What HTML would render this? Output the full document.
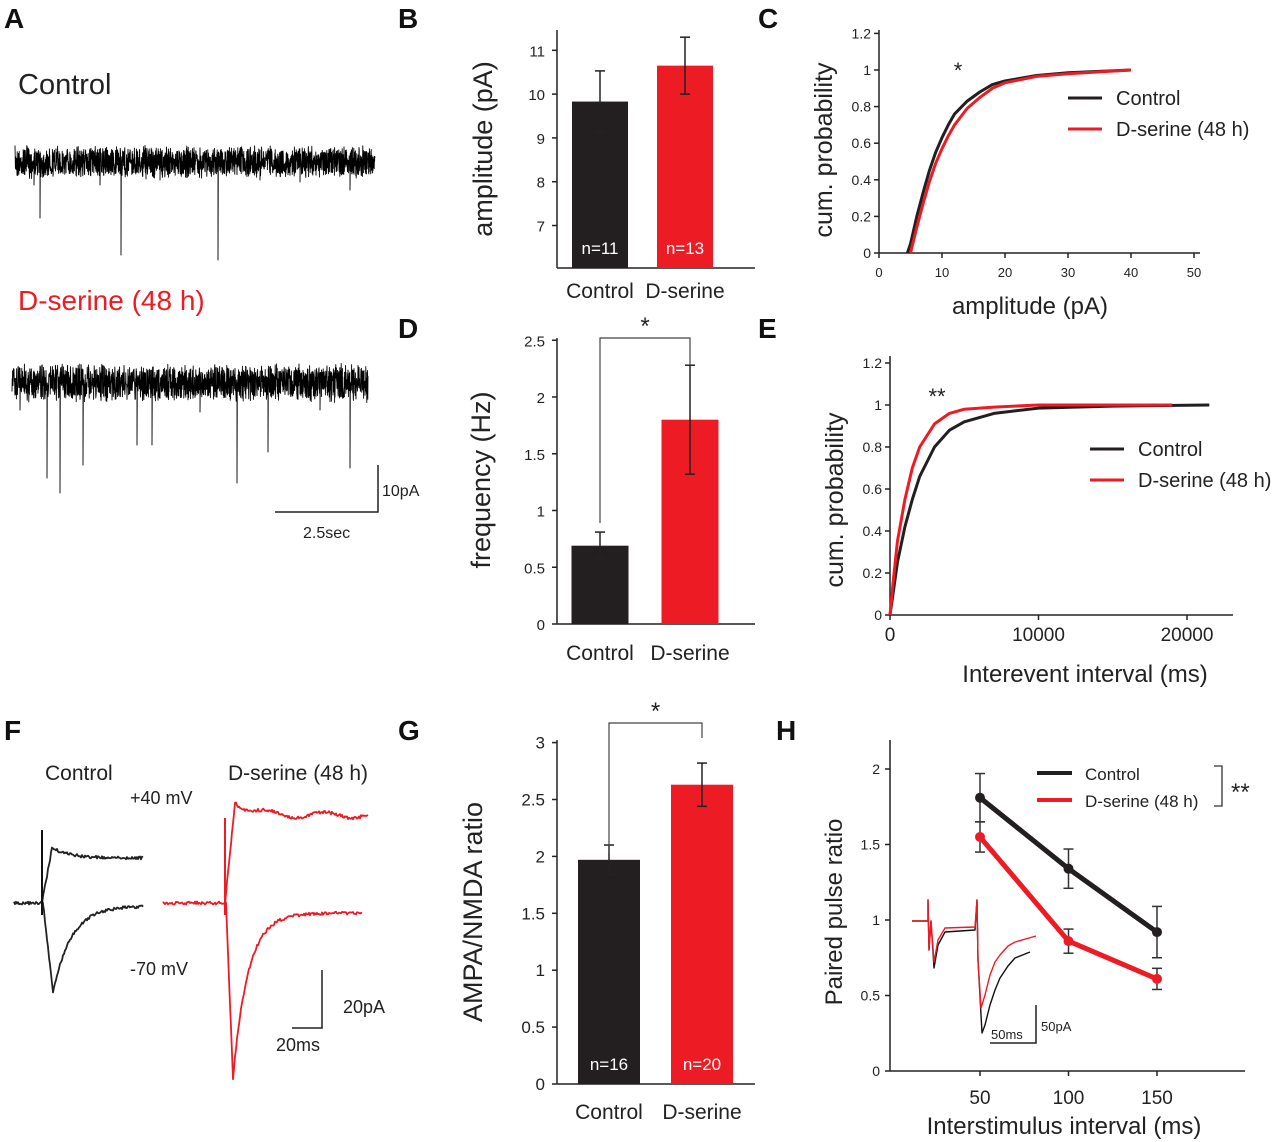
<!DOCTYPE html>
<html><head><meta charset="utf-8">
<style>
html,body{margin:0;padding:0;background:#fff;}
svg{display:block;font-family:"Liberation Sans",Arial,sans-serif;}
</style></head>
<body>
<svg id="fig" width="1280" height="1142" viewBox="0 0 1280 1142" xmlns="http://www.w3.org/2000/svg">
<g id="root"></g>
</svg>
<script>
// ---------- data ----------
const barCats = ["Control","D-serine"];
const ampMeans = [9.83, 10.65];
const ampErr = [0.7, 0.65];
const ampN = ["n=11","n=13"];
const freqMeans = [0.69, 1.80];
const freqErr = [0.12, 0.48];
const ratioMeans = [1.97, 2.63];
const ratioErr = [0.13, 0.19];
const ratioN = ["n=16","n=20"];
const ampCdfX_ctrl = [4.5,5,6,7,8,9,10,11,12,14,16,18,20,25,30,40];
const ampCdfY_ctrl = [0,0.05,0.2,0.33,0.45,0.55,0.63,0.7,0.76,0.83,0.88,0.92,0.94,0.97,0.985,1];
const ampCdfX_ds = [5,6,7,8,9,10,11,12,14,16,18,20,25,30,40];
const ampCdfY_ds = [0,0.14,0.27,0.39,0.49,0.57,0.64,0.7,0.79,0.85,0.9,0.93,0.965,0.98,1];
const iiCdfX_ctrl = [0,200,500,1000,1500,2000,3000,4000,5000,7000,10000,15000,21500];
const iiCdfY_ctrl = [0,0.1,0.25,0.42,0.55,0.66,0.8,0.88,0.92,0.96,0.985,0.995,1];
const iiCdfX_ds = [0,200,500,1000,1500,2000,3000,4000,5000,7000,10000,19000];
const iiCdfY_ds = [0,0.15,0.35,0.55,0.7,0.8,0.91,0.96,0.98,0.99,1,1];
const ppX = [50,100,150];
const ppCtrl = [1.81,1.34,0.92];
const ppCtrlErr = [0.16,0.13,0.17];
const ppDs = [1.55,0.86,0.61];
const ppDsErr = [0.1,0.08,0.07];

const NS="http://www.w3.org/2000/svg";
const root=document.getElementById('root');
function mk(tag,attrs,name,parent){
  const el=document.createElementNS(NS,tag);
  for(const k in attrs) el.setAttribute(k,attrs[k]);
  
  
  (parent||root).appendChild(el);return el;
}
function txt(x,y,s,size,name,opt){
  opt=opt||{};
  const t=mk('text',{x:x,y:y,'font-size':size,fill:opt.fill||'#222','text-anchor':opt.anchor||'start','font-weight':opt.bold?'bold':'normal'},name);
  if(opt.rot) t.setAttribute('transform',`rotate(-90 ${x} ${y})`);
  t.textContent=s;return t;
}
function line(x1,y1,x2,y2,name,stroke,w){return mk('line',{x1,y1,x2,y2,stroke:stroke||'#222','stroke-width':w||1.5},name);}
function poly(pts,name,stroke,w){return mk('polyline',{points:pts.map(p=>p[0].toFixed(1)+','+p[1].toFixed(1)).join(' '),fill:'none',stroke,'stroke-width':w||1.5,'stroke-linejoin':'round'},name);}

// panel letters
[["A",4,28],["B",398,28],["C",758,28],["D",398,338],["E",758,338],["F",4,740],["G",398,740],["H",776,740]].forEach(l=>txt(l[1],l[2],l[0],28,'panel-label-'+l[0].toLowerCase(),{bold:true,fill:'#111'}));

const colors=['#231f20','#ed1c24'];

// ---------- bar panel helper ----------
function barPanel(cfg){
  const y=v=>cfg.y0-(v-cfg.min)*cfg.k;
  line(cfg.ax,cfg.top,cfg.ax,cfg.y0,cfg.id+'-y-axis');
  line(cfg.ax,cfg.y0,cfg.ax2,cfg.y0,cfg.id+'-x-axis');
  cfg.ticks.forEach(t=>{line(cfg.ax-5,y(t),cfg.ax,y(t),cfg.id+'-y-tick');txt(cfg.ax-12,y(t)+6,String(t),cfg.tfs||16,cfg.id+'-y-tick-label',{anchor:'end'});});
  cfg.means.forEach((m,i)=>{
    const cx=cfg.cx[i];
    mk('rect',{x:cx-cfg.bw/2,y:y(m),width:cfg.bw,height:cfg.y0-y(m),fill:colors[i]},cfg.id+'-bar-'+i);
    const e=cfg.err[i];
    line(cx,y(m+e),cx,y(m-e),cfg.id+'-error-bar');
    line(cx-5,y(m+e),cx+5,y(m+e),cfg.id+'-error-cap');
    line(cx-5,y(m-e),cx+5,y(m-e),cfg.id+'-error-cap');
    txt(cx,cfg.labY,barCats[i],21,cfg.id+'-x-label',{anchor:'middle'});
    if(cfg.n) txt(cx,cfg.y0-14,cfg.n[i],17,cfg.id+'-n-label',{anchor:'middle',fill:'#fff'});
  });
  txt(cfg.titleX,cfg.titleY,cfg.title,27,cfg.id+'-y-axis-title',{anchor:'middle',rot:true});
  if(cfg.sig){
    const [a,b]=cfg.sig;
    mk('polyline',{points:`${cfg.cx[0]},${a} ${cfg.cx[0]},${cfg.bt} ${cfg.cx[1]},${cfg.bt} ${cfg.cx[1]},${b}`,fill:'none',stroke:'#444','stroke-width':1.2},cfg.id+'-significance-bracket');
    txt((cfg.cx[0]+cfg.cx[1])/2,cfg.bt-4,'*',24,cfg.id+'-significance-star',{anchor:'middle'});
  }
}
barPanel({id:'b',ax:557,ax2:755,top:30,y0:268,min:6.03,k:43.8,ticks:[7,8,9,10,11],means:ampMeans,err:ampErr,cx:[600,685],bw:56,labY:298,n:ampN,title:'amplitude (pA)',titleX:492,titleY:149,tfs:15});
barPanel({id:'d',ax:557,ax2:755,top:338,y0:624,min:0,k:113.5,ticks:[0,0.5,1,1.5,2,2.5],means:freqMeans,err:freqErr,cx:[600,690],bw:57,labY:660,title:'frequency (Hz)',titleX:490,titleY:480,sig:[523,365],bt:338,tfs:15});
barPanel({id:'g',ax:557,ax2:755,top:740,y0:1084,min:0,k:113.8,ticks:[0,0.5,1,1.5,2,2.5,3],means:ratioMeans,err:ratioErr,cx:[609,702],bw:62,labY:1119,n:ratioN,title:'AMPA/NMDA ratio',titleX:482,titleY:912,sig:[853,738],bt:723,tfs:17});

// ---------- CDF panels ----------
function cdfPanel(cfg){
  const X=v=>cfg.x0+v*cfg.kx, Y=v=>cfg.y0-v*cfg.ky;
  line(cfg.x0,cfg.top,cfg.x0,cfg.y0,cfg.id+'-y-axis');
  line(cfg.x0,cfg.y0,cfg.xend,cfg.y0,cfg.id+'-x-axis');
  cfg.yt.forEach(t=>{line(cfg.x0-5,Y(t),cfg.x0,Y(t),cfg.id+'-y-tick');txt(cfg.x0-8,Y(t)+5,String(t),14,cfg.id+'-y-tick-label',{anchor:'end'});});
  cfg.xt.forEach(t=>{line(X(t),cfg.y0,X(t),cfg.y0+5,cfg.id+'-x-tick');txt(X(t),cfg.y0+cfg.xtd,String(t),cfg.xfs,cfg.id+'-x-tick-label',{anchor:'middle'});});
  const sets=[[cfg.xc,cfg.yc],[cfg.xd,cfg.yd]];
  sets.forEach((s,i)=>poly(s[0].map((v,j)=>[X(v),Y(s[1][j])]),cfg.id+(i?'-dserine-curve':'-control-curve'),colors[i],3));
  txt(cfg.tx,cfg.ty,cfg.ytitle,25,cfg.id+'-y-axis-title',{anchor:'middle',rot:true});
  txt(cfg.xtx,cfg.xty,cfg.xtitle,24,cfg.id+'-x-axis-title',{anchor:'middle'});
  cfg.leg.forEach((l,i)=>{line(l[0],l[1],l[0]+34,l[1],cfg.id+'-legend-line-'+i,colors[i],3);txt(l[0]+48,l[1]+7,l[2],20,cfg.id+'-legend-entry-'+i);});
  txt(cfg.star[0],cfg.star[1],cfg.star[2],22,cfg.id+'-significance-star',{anchor:'middle'});
}
cdfPanel({id:'c',x0:879,y0:253,kx:6.3,ky:183,top:30,xend:1200,yt:[0,0.2,0.4,0.6,0.8,1,1.2],xt:[0,10,20,30,40,50],xtd:24,xfs:13,
  xc:ampCdfX_ctrl,yc:ampCdfY_ctrl,xd:ampCdfX_ds,yd:ampCdfY_ds,ytitle:'cum. probability',tx:832,ty:150,xtitle:'amplitude (pA)',xtx:1030,xty:314,
  leg:[[1068,98,'Control'],[1068,129,'D-serine (48 h)']],star:[958,78,'*']});
cdfPanel({id:'e',x0:890,y0:615,kx:0.01485,ky:210,top:356,xend:1233,yt:[0,0.2,0.4,0.6,0.8,1,1.2],xt:[0,10000,20000],xtd:26,xfs:19,
  xc:iiCdfX_ctrl,yc:iiCdfY_ctrl,xd:iiCdfX_ds,yd:iiCdfY_ds,ytitle:'cum. probability',tx:843,ty:500,xtitle:'Interevent interval (ms)',xtx:1085,xty:682,
  leg:[[1090,449,'Control'],[1090,480,'D-serine (48 h)']],star:[937,404,'**']});

// ---------- Panel H ----------
(function(){
  const X=v=>980+(v-50)*1.77, Y=v=>1071-v*151;
  line(890,740,890,1071,'h-y-axis');line(890,1071,1245,1071,'h-x-axis');
  [0,0.5,1,1.5,2].forEach(t=>{line(885,Y(t),890,Y(t),'h-y-tick');txt(880,Y(t)+5,String(t),14,'h-y-tick-label',{anchor:'end'});});
  ppX.forEach(t=>{line(X(t),1071,X(t),1076,'h-x-tick');txt(X(t),1104,String(t),19,'h-x-tick-label',{anchor:'middle'});});
  [[ppCtrl,ppCtrlErr],[ppDs,ppDsErr]].forEach((s,i)=>{
    poly(ppX.map((v,j)=>[X(v),Y(s[0][j])]),i?'h-dserine-line':'h-control-line',colors[i],5);
    ppX.forEach((v,j)=>{
      const cx=X(v);
      line(cx,Y(s[0][j]+s[1][j]),cx,Y(s[0][j]-s[1][j]),'h-error-bar','#333',1.5);
      line(cx-5,Y(s[0][j]+s[1][j]),cx+5,Y(s[0][j]+s[1][j]),'h-error-cap','#333',1.5);
      line(cx-5,Y(s[0][j]-s[1][j]),cx+5,Y(s[0][j]-s[1][j]),'h-error-cap','#333',1.5);
      mk('circle',{cx:cx,cy:Y(s[0][j]),r:5,fill:colors[i]},'h-point');
    });
  });
  txt(842,912,'Paired pulse ratio',24,'h-y-axis-title',{anchor:'middle',rot:true});
  txt(1064,1134,'Interstimulus interval (ms)',24,'h-x-axis-title',{anchor:'middle'});
  line(1037,773,1072,773,'h-legend-line-0',colors[0],4);txt(1085,780,'Control',17,'h-legend-entry-0');
  line(1037,800,1072,800,'h-legend-line-1',colors[1],4);txt(1085,807,'D-serine (48 h)',17,'h-legend-entry-1');
  mk('polyline',{points:'1214,766 1222,766 1222,806 1214,806',fill:'none',stroke:'#333','stroke-width':1.3},'h-legend-bracket');
  txt(1231,800,'**',24,'h-significance-stars');
  const c=[[912,921],[928,921],[928,900],[929,950],[931,921],[934,968],[938,945],[945,932],[975,930],[977,900],[978,960],[982,1033],[985,1025],[990,1005],[995,990],[1000,978],[1008,966],[1015,958],[1030,952]];
  const r=[[912,921],[928,921],[928,900],[929,950],[931,921],[934,962],[938,940],[945,928],[975,927],[977,900],[978,960],[981,1008],[985,995],[990,975],[995,962],[1000,955],[1008,946],[1015,942],[1036,936]];
  poly(c,'h-inset-control-trace','#111',1.4);poly(r,'h-inset-dserine-trace','#ed1c24',1.4);
  mk('polyline',{points:'1036,1005 1036,1043 990,1043',fill:'none',stroke:'#222','stroke-width':1.5},'h-inset-scale-bar');
  txt(991,1039,'50ms',13,'h-inset-scale-time');txt(1041,1031,'50pA',13,'h-inset-scale-amp');
})();

// ---------- Panel A traces ----------
let seed=7;function rnd(){seed=(seed*16807)%2147483647;return seed/2147483647;}
function noisy(x0,x1,base,amp,spikes,name){
  const pts=[];
  for(let x=x0;x<=x1;x+=0.2){
    let y=base+(rnd()-0.5)*amp*(0.6+0.4*rnd());
    pts.push([x,y]);
    spikes.forEach(s=>{if(Math.abs(x-s[0])<0.1){pts.push([x,s[1]]);pts.push([x+0.3,base]);}});
  }
  poly(pts,name,'#000',0.9);
}
txt(18,94,'Control',29,'a-control-label');
noisy(15,375,162,34,[[40,218],[121,255],[218,260],[34,185],[100,185],[160,180],[300,182],[350,190],[260,180]],'a-control-trace');
txt(18,310,'D-serine (48 h)',28,'a-dserine-label',{fill:'#ed1c24'});
noisy(12,368,383,40,[[47,478],[60,493],[83,465],[137,445],[152,445],[237,483],[268,452],[350,468],[20,410],[200,412],[320,410]],'a-dserine-trace');
mk('polyline',{points:'378,465 378,512 275,512',fill:'none',stroke:'#222','stroke-width':1.5},'a-scale-bar');
txt(382,496,'10pA',16,'a-scale-amp');txt(303,538,'2.5sec',16,'a-scale-time');

// ---------- Panel F ----------
txt(45,780,'Control',21,'f-control-label');
txt(228,780,'D-serine (48 h)',21,'f-dserine-label');
txt(130,804,'+40 mV',18,'f-plus40-label');
txt(130,975,'-70 mV',18,'f-minus70-label');
function wave(x0,xs,x1,base,peak,tpk,tau,end,name,col,osc){
  const pts=[];
  for(let x=x0;x<xs;x+=1)pts.push([x,base+(rnd()-0.5)*3]);
  pts.push([xs,base]);
  for(let x=xs;x<=x1;x+=1){
    const t=x-xs;let y;
    if(t<tpk)y=base+(peak-base)*(t/tpk);
    else y=end+(peak-end)*Math.exp(-(t-tpk)/tau);
    if(osc)y+=3*Math.sin(t/9);
    pts.push([x,y+(rnd()-0.5)*3]);
  }
  poly(pts,name,col,1.8);
}
wave(14,42,143,903,848,10,18,858,'f-control-plus40-trace','#222');
wave(42,43,143,903,993,10,18,906,'f-control-minus70-trace','#222');
line(42,830,42,915,'f-control-stim-artifact','#111',2);
wave(163,225,368,903,800,10,15,815,'f-dserine-plus40-trace','#ed1c24',true);
wave(225,226,362,903,1078,7,15,913,'f-dserine-minus70-trace','#ed1c24');
line(225,818,225,915,'f-dserine-stim-artifact','#ed1c24',2);
mk('polyline',{points:'322,970 322,1028 292,1028',fill:'none',stroke:'#222','stroke-width':1.5},'f-scale-bar');
txt(343,1013,'20pA',18,'f-scale-amp');txt(276,1051,'20ms',18,'f-scale-time');
</script>
</body></html>
